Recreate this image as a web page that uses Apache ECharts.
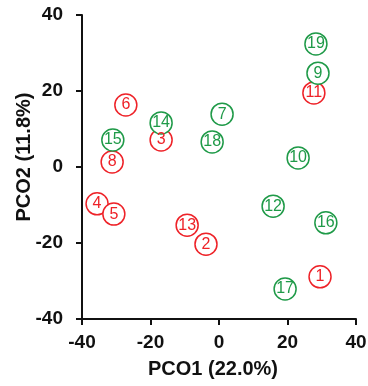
<!DOCTYPE html>
<html>
<head>
<meta charset="utf-8">
<script src="https://cdn.jsdelivr.net/npm/echarts@6/dist/echarts.min.js"></script>
<style>html,body{margin:0;padding:0;background:#fff}#c{width:368px;height:386px}</style>
</head>
<body>
<div id="c"></div>
<script>
// Group A (red) samples: [PCO1, PCO2, label]
const redIds = ['1','2','3','4','5','6','8','11','13'];
const redX = [29.5, -3.8, -16.9, -35.6, -30.7, -27.2, -31.2, 27.7, -9.3];
const redY = [-28.9, -20.3, 7.1, -9.7, -12.4, 16.3, 1.3, 19.5, -15.3];
// Group B (green) samples
const greenIds = ['7','9','10','12','14','15','16','17','18','19'];
const greenX = [0.9, 28.9, 23.1, 15.8, -16.9, -31.0, 31.2, 19.3, -2.0, 28.3];
const greenY = [13.9, 24.7, 2.4, -10.3, 11.6, 7.1, -14.7, -32.1, 6.6, 32.4];
const xTicks = [-40, -20, 0, 20, 40];
const yTicks = [-40, -20, 0, 20, 40];

const RED = '#ee2228', GREEN = '#1f9a48';
const FONT = 'Liberation Sans, Arial, sans-serif';
function pts(ids, xs, ys) { return ids.map((id, i) => [xs[i], ys[i], id]); }
function ser(name, data, color) {
  return {
    name, type: 'scatter', data, symbol: 'circle', symbolSize: 22,
    itemStyle: { color: '#fff', borderColor: color, borderWidth: 1.5, opacity: 1 },
    label: { show: true, position: 'inside', formatter: p => p.data[2],
      color: color, fontFamily: FONT, fontSize: 16 },
    emphasis: { disabled: true }
  };
}
const axisCommon = {
  interval: 20,
  axisLine: { show: true, onZero: false, lineStyle: { color: '#111', width: 2 } },
  axisTick: { show: true, inside: false, length: 6, lineStyle: { color: '#111', width: 2 } },
  axisLabel: { color: '#111', fontWeight: 'bold', fontSize: 19, fontFamily: FONT },
  splitLine: { show: false },
  nameLocation: 'middle',
  nameMoveOverlap: false
};
const chart = echarts.init(document.getElementById('c'), null, { renderer: 'canvas' });
chart.setOption({
  animation: false,
  backgroundColor: '#fff',
  grid: { left: 82, right: 12, top: 15, bottom: 67, containLabel: false, outerBoundsMode: 'none' },
  xAxis: Object.assign({}, axisCommon, { type: 'value', name: 'PCO1 (22.0%)', nameGap: 40,
    min: xTicks[0], max: xTicks[xTicks.length - 1],
    nameTextStyle: { color: '#111', fontWeight: 'bold', fontSize: 20, fontFamily: FONT, padding: [0, 12, 0, 0] },
    axisLabel: Object.assign({}, axisCommon.axisLabel, { margin: 14 }) }),
  yAxis: Object.assign({}, axisCommon, { type: 'value', name: 'PCO2 (11.8%)', nameGap: 48,
    min: yTicks[0], max: yTicks[yTicks.length - 1],
    nameTextStyle: { color: '#111', fontWeight: 'bold', fontSize: 20, fontFamily: FONT, padding: [0, 0, 0, 20] },
    axisLabel: Object.assign({}, axisCommon.axisLabel, { margin: 19 }) }),
  series: [ser('A', pts(redIds, redX, redY), RED), ser('B', pts(greenIds, greenX, greenY), GREEN)]
});
</script>
</body>
</html>
